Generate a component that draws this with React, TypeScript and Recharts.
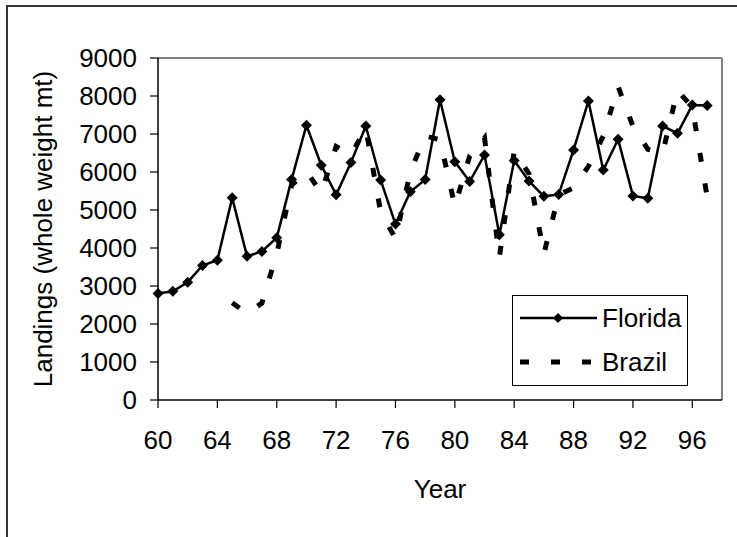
import React from 'react';
import { LineChart, Line, XAxis, YAxis, Legend, ReferenceLine } from 'recharts';

const FONT = '"Liberation Sans", Arial, sans-serif';

const YEARS = [
  60, 61, 62, 63, 64, 65, 66, 67, 68, 69, 70, 71, 72, 73, 74, 75, 76, 77, 78,
  79, 80, 81, 82, 83, 84, 85, 86, 87, 88, 89, 90, 91, 92, 93, 94, 95, 96, 97,
];

const FLORIDA = [
  2800, 2860, 3100, 3540, 3680, 5320, 3780, 3910, 4270, 5800, 7230, 6180, 5400,
  6250, 7210, 5790, 4630, 5480, 5800, 7900, 6270, 5750, 6450, 4350, 6300,
  5760, 5360, 5410, 6580, 7870, 6050, 6860, 5370, 5310, 7210, 7020, 7760, 7750,
];

const BRAZIL = [
  null, null, null, null, null, 2560, 2280, 2550, 3850, 5650, 6020, 5450, 6670,
  6450, 7150, 4950, 4250, 6000, 6950, 6850, 5100, 6420, 6900, 3750, 6550,
  5950, 3850, 5400, 5580, 6150, 6950, 8250, 7200, 6600, 6500, 8150, 7700, 5350,
];

const X_TICKS = [60, 64, 68, 72, 76, 80, 84, 88, 92, 96];
const Y_TICKS = [0, 1000, 2000, 3000, 4000, 5000, 6000, 7000, 8000, 9000];

const data = YEARS.map((year, i) => ({ year, florida: FLORIDA[i], brazil: BRAZIL[i] }));

const diamondPoints = (cx: number, cy: number, r: number) =>
  `${cx},${cy - r} ${cx + r},${cy} ${cx},${cy + r} ${cx - r},${cy}`;

const Diamond = (props: any) => {
  const { cx, cy } = props;
  if (cx == null || cy == null) return null;
  return <polygon points={diamondPoints(cx, cy, 5.5)} fill="#000" />;
};

const YearLabel = () => (
  <text x={440} y={489} textAnchor="middle" dominantBaseline="central" fontFamily={FONT} fontSize={26} fill="#000">
    Year
  </text>
);

const LandingsLabel = () => (
  <text
    x={43}
    y={229}
    transform="rotate(-90 43 229)"
    textAnchor="middle"
    dominantBaseline="central"
    fontFamily={FONT}
    fontSize={26}
    fill="#000"
  >
    Landings (whole weight mt)
  </text>
);

const renderLegend = () => (
  <div style={{ width: 176, height: 91, border: '1px solid #000', boxSizing: 'border-box', background: '#fff' }}>
    <svg width={174} height={89} style={{ display: 'block' }}>
      <line x1={7} x2={84} y1={22} y2={22} stroke="#000" strokeWidth={2.5} />
      <polygon points={diamondPoints(45, 22, 5)} fill="#000" />
      <text x={89} y={22} dominantBaseline="central" fontFamily={FONT} fontSize={26} fill="#000">
        Florida
      </text>
      <line x1={7} x2={84} y1={66} y2={66} stroke="#000" strokeWidth={5} strokeDasharray="9 22" />
      <text x={89} y={66} dominantBaseline="central" fontFamily={FONT} fontSize={26} fill="#000">
        Brazil
      </text>
    </svg>
  </div>
);

export default function App() {
  return (
    <div style={{ position: 'absolute', left: 0, top: 0, width: 737, height: 537, background: '#fff', overflow: 'hidden' }}>
      <div
        style={{
          position: 'absolute',
          left: 6,
          top: 5,
          width: 760,
          height: 530,
          borderLeft: '2px solid #333',
          borderTop: '2px solid #333',
          borderBottom: '1px solid #ddd',
        }}
      />
      <div style={{ position: 'absolute', left: 0, top: 0 }}>
        <LineChart width={737} height={537} data={data} margin={{ top: 58, right: 15, left: 0, bottom: 0 }}>
          <XAxis
            dataKey="year"
            type="number"
            domain={[60, 98]}
            ticks={X_TICKS}
            interval={0}
            height={137}
            tickSize={8}
            tickMargin={23}
            axisLine={{ stroke: '#000', strokeWidth: 1.5 }}
            tickLine={{ stroke: '#000', strokeWidth: 1.2 }}
            tick={{ fill: '#000', fontSize: 26, fontFamily: FONT }}
            label={<YearLabel />}
          />
          <YAxis
            type="number"
            domain={[0, 9000]}
            ticks={Y_TICKS}
            interval={0}
            width={158}
            tickSize={8}
            tickMargin={13}
            axisLine={{ stroke: '#000', strokeWidth: 1.5 }}
            tickLine={{ stroke: '#000', strokeWidth: 1.2 }}
            tick={{ fill: '#000', fontSize: 26, fontFamily: FONT }}
            label={<LandingsLabel />}
          />
          <ReferenceLine y={9000} stroke="#808080" strokeWidth={2} />
          <ReferenceLine x={98} stroke="#808080" strokeWidth={2} />
          <Line
            dataKey="florida"
            stroke="#000"
            strokeWidth={2.5}
            dot={(p: any) => <Diamond key={`d-${p.index}`} {...p} />}
            activeDot={false}
            isAnimationActive={false}
          />
          <Line
            dataKey="brazil"
            stroke="#000"
            strokeWidth={5}
            strokeDasharray="9 22"
            dot={false}
            activeDot={false}
            isAnimationActive={false}
          />
          <Legend
            layout="vertical"
            align="center"
            verticalAlign="middle"
            content={renderLegend}
            wrapperStyle={{ left: 512, top: 295, width: 176, height: 91 }}
          />
        </LineChart>
      </div>
    </div>
  );
}
